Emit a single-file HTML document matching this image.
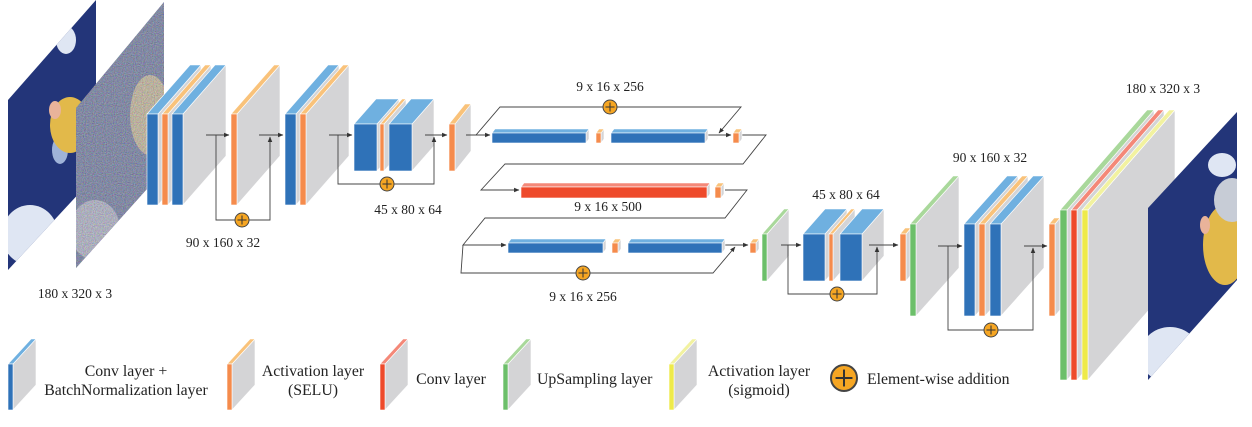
<!DOCTYPE html>
<html><head><meta charset="utf-8">
<style>
html,body{margin:0;padding:0;background:#fff;}
svg{display:block;font-family:"Liberation Serif",serif;}
text{fill:#222;}
</style></head>
<body>
<svg id="s" width="1252" height="427" viewBox="0 0 1252 427" xmlns="http://www.w3.org/2000/svg">
<defs>
<marker id="ah" viewBox="0 0 6 6" refX="5.5" refY="3" markerWidth="6" markerHeight="6" orient="auto"><path d="M0,0.5 L6,3 L0,5.5z" fill="#333"/></marker>
<filter id="noise" x="0" y="0" width="100%" height="100%"><feTurbulence type="fractalNoise" baseFrequency="0.9" numOctaves="1" seed="3"/><feColorMatrix type="matrix" values="1.2 0 0 0 -0.1  0 1.2 0 0 -0.1  0 0 1.3 0 -0.1  0 0 0 0 0.55"/><feComposite in2="SourceGraphic" operator="in"/></filter>
<clipPath id="c1"><polygon points="8,100 96,0 96,175 8,270"/></clipPath>
<clipPath id="c2"><polygon points="76,108 164,2 164,170 76,268"/></clipPath>
<clipPath id="c3"><polygon points="1148,208 1237,112 1237,280 1148,380"/></clipPath>
</defs>
<g id="inputs">
 <g clip-path="url(#c1)">
  <rect x="0" y="0" width="100" height="280" fill="#233579"/>
  <ellipse cx="30" cy="235" rx="28" ry="30" fill="#dfe6f3"/>
  <ellipse cx="66" cy="40" rx="10" ry="14" fill="#dfe6f3"/>
  <ellipse cx="60" cy="150" rx="8" ry="14" fill="#9fb3d8"/>
  <ellipse cx="70" cy="125" rx="20" ry="28" fill="#e2b94a"/>
  <ellipse cx="55" cy="110" rx="6" ry="9" fill="#e9b39a"/>
 </g>
 <g clip-path="url(#c2)">
  <rect x="70" y="0" width="100" height="280" fill="#3e4d7c"/>
  <ellipse cx="150" cy="115" rx="20" ry="40" fill="#b8a472"/>
  <ellipse cx="95" cy="230" rx="25" ry="30" fill="#9a9eb4"/>
  <rect x="70" y="0" width="100" height="280" fill="#888" filter="url(#noise)"/>
 </g>
</g>
<g id="net"></g>
<g id="out">
 <g clip-path="url(#c3)">
  <rect x="1140" y="100" width="100" height="290" fill="#233579"/>
  <ellipse cx="1170" cy="355" rx="30" ry="28" fill="#dfe6f3"/>
  <ellipse cx="1222" cy="165" rx="14" ry="12" fill="#dfe6f3"/>
  <ellipse cx="1225" cy="245" rx="22" ry="40" fill="#e2b94a"/>
  <ellipse cx="1232" cy="200" rx="18" ry="22" fill="#c7ccd6"/>
  <ellipse cx="1205" cy="225" rx="5" ry="9" fill="#e9b39a"/>
 </g>
</g>
<g id="labels" font-size="13.5" text-anchor="middle">
 <text x="75" y="298">180 x 320 x 3</text>
 <text x="223" y="247">90 x 160 x 32</text>
 <text x="408" y="214">45 x 80 x 64</text>
 <text x="610" y="91">9 x 16 x 256</text>
 <text x="608" y="211">9 x 16 x 500</text>
 <text x="583" y="301">9 x 16 x 256</text>
 <text x="846" y="199">45 x 80 x 64</text>
 <text x="990" y="162">90 x 160 x 32</text>
 <text x="1163" y="93">180 x 320 x 3</text>
</g>
<g id="legend" font-size="15.8">
 <text x="126" y="376" text-anchor="middle"><tspan x="126">Conv layer +</tspan><tspan x="126" dy="19">BatchNormalization layer</tspan></text>
 <text x="313" y="376" text-anchor="middle"><tspan x="313">Activation layer</tspan><tspan x="313" dy="19">(SELU)</tspan></text>
 <text x="451" y="384" text-anchor="middle">Conv layer</text>
 <text x="537" y="384">UpSampling layer</text>
 <text x="759" y="376" text-anchor="middle"><tspan x="759">Activation layer</tspan><tspan x="759" dy="19">(sigmoid)</tspan></text>
 <text x="867" y="384">Element-wise addition</text>
</g>
</svg>
<script>
const NS='http://www.w3.org/2000/svg';
const net=document.getElementById('net');
const legend=document.getElementById('legend');
const C={blue:['#2f72b8','#6fb0e0'],orange:['#f58b4c','#f9c27a'],red:['#ee4a2b','#f48878'],green:['#6cbf6a','#a9d89b'],yellow:['#eeea4a','#f2f2a0']};
function el(tag,attrs,parent){const e=document.createElementNS(NS,tag);for(const k in attrs)e.setAttribute(k,attrs[k]);(parent||net).appendChild(e);return e;}
function pts(a){return a.map(p=>p.join(',')).join(' ');}
function block(name,y,h,dx,dy,layers,parent){
  const g=el('g',{},parent);
  
  
  layers.forEach(l=>{
    const [x,w,c]=l;const xe=x+w;
    el('polygon',{points:pts([[xe,y],[xe+dx,y+dy],[xe+dx,y+dy+h],[xe,y+h]]),fill:'#d4d4d6',stroke:'#fff','stroke-width':0.6},g);
    el('polygon',{points:pts([[x,y],[xe,y],[xe+dx,y+dy],[x+dx,y+dy]]),fill:C[c][1],stroke:'#fff','stroke-width':0.6},g);
    el('rect',{x:x,y:y,width:w,height:h,fill:C[c][0],stroke:'#fff','stroke-width':0.6},g);
  });
  return g;
}
function line(points,arrow,name){
  const p=el('polyline',{points:pts(points),fill:'none',stroke:'#444','stroke-width':0.9});
  if(arrow)p.setAttribute('marker-end','url(#ah)');
  
  
}
function plus(cx,cy,r,parent){
  const g=el('g',{},parent);
  
  
  el('circle',{cx:cx,cy:cy,r:r,fill:'#f6a623',stroke:'#444','stroke-width':r>10?2:1},g);
  el('line',{x1:cx-r*0.65,y1:cy,x2:cx+r*0.65,y2:cy,stroke:'#333','stroke-width':r>10?2:1},g);
  el('line',{x1:cx,y1:cy-r*0.65,x2:cx,y2:cy+r*0.65,stroke:'#333','stroke-width':r>10?2:1},g);
}
block('enc-block-1',114,91,43,-49,[[147,11,'blue'],[162,6,'orange'],[172,11,'blue']]);
block('enc-block-2',114,91,43,-49,[[231,6,'orange']]);
block('enc-block-3',114,91,43,-49,[[285,11,'blue'],[300,6,'orange']]);
block('enc-block-4',124,47,22,-25,[[354,23,'blue'],[380,4,'orange'],[389,23,'blue']]);
block('enc-block-5',124,47,16,-20,[[449,6,'orange']]);
line([[206,135],[229,135]],true);line([[216,135],[216,220],[270,220],[270,137]],true);
line([[259,135],[283,135]],true);
line([[329,135],[352,135]],true);line([[338,135],[338,184],[434,184],[434,137]],true);
line([[425,135],[447,135]],true);
plus(242,220,7);plus(387,184,7);
line([[466,135],[490,135]],true);
line([[476,135],[500,107],[741,107],[719,133]],true);
line([[706,135],[731,135]],true);
line([[741,135],[766,135],[743,164],[505,164],[481,190],[519,190]],true);
line([[725,190],[747,190],[725,218],[485,218],[463,245],[506,245]],true);
line([[463,245],[461,273],[713,273],[735,247]],true);
line([[724,245],[748,245]],true);
plus(610,107,7);plus(583,273,7);
block('res-bar-1a',133,10,3,-4,[[492,94,'blue']]);
block('res-bar-1b',133,10,3,-4,[[596,5,'orange']]);
block('res-bar-1c',133,10,3,-4,[[611,94,'blue']]);
block('res-act-1',133,10,3,-4,[[733,6,'orange']]);
block('bottleneck-conv',187,11,3,-4,[[521,186,'red']]);
block('bottleneck-act',187,11,3,-4,[[715,6,'orange']]);
block('res-bar-2a',243,10,3,-4,[[508,95,'blue']]);
block('res-bar-2b',243,10,3,-4,[[612,6,'orange']]);
block('res-bar-2c',243,10,3,-4,[[628,94,'blue']]);
block('res-act-2',243,10,3,-4,[[750,6,'orange']]);
block('dec-upsample-1',234,47,22,-25,[[762,5,'green']]);
line([[781,245],[801,245]],true);
block('dec-block-1',234,47,22,-25,[[803,22,'blue'],[829,4,'orange'],[840,22,'blue']]);
line([[788,245],[788,294],[877,294],[877,247]],true);line([[869,245],[898,245]],true);
plus(837,294,7);
block('dec-act-1',234,47,5,-6,[[900,6,'orange']]);
block('dec-upsample-2',224,92,43,-48,[[910,6,'green']]);
line([[938,246],[962,246]],true);
block('dec-block-2',224,92,43,-48,[[964,11,'blue'],[979,6,'orange'],[990,11,'blue']]);
line([[948,246],[948,330],[1033,330],[1033,248]],true);line([[1024,246],[1047,246]],true);
plus(991,330,7);
block('dec-act-2',224,92,5,-6,[[1049,6,'orange']]);
block('final-block',210,170,87,-100,[[1060,7,'green'],[1071,6,'red'],[1082,6,'yellow']]);
const leg=[['legend-conv-bn-icon',8,'blue'],['legend-selu-icon',227,'orange'],['legend-conv-icon',380,'red'],['legend-upsampling-icon',503,'green'],['legend-sigmoid-icon',669,'yellow']];
leg.forEach(l=>block(l[0],364,46,23,-25,[[l[1],5,l[2]]],legend));
plus(844,378,13,legend);
</script>
</body></html>
